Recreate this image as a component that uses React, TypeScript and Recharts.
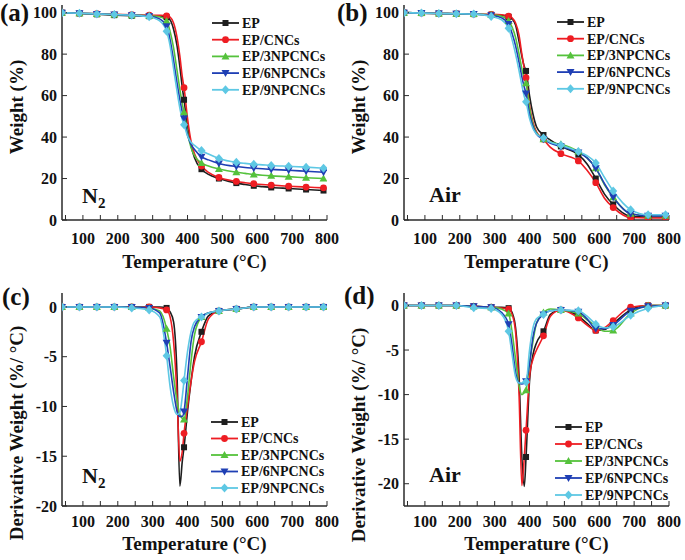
import { LineChart, Line, XAxis, YAxis, Label } from 'recharts';

const FONT = "'Liberation Serif', 'Times New Roman', serif";
const AXIS = '#2a2a2a';

const TEMPS = [40, 90, 140, 190, 240, 290, 320, 340, 350, 360, 370, 378, 385, 390, 400, 410, 420, 440, 460, 490, 540, 565, 590, 615, 640, 690, 740, 790];
const X_TICKS = [50, 100, 150, 200, 250, 300, 350, 400, 450, 500, 550, 600, 650, 700, 750, 800];
const SAMPLES = ['EP', 'EP/CNCs', 'EP/3NPCNCs', 'EP/6NPCNCs', 'EP/9NPCNCs'];
const COLORS = ['#1e1e1e', '#ee1d23', '#55c23c', '#1f3fb4', '#5ec8e4'];

// (a) TGA in N2, weight %
const TGA_N2_EP = [100, 99.6, 99.2, 98.8, 98.5, 98.3, 98.2, 97.8, 96.5, 92, 84, 74, 64, 58, 45, 36, 30, 24.5, 22, 20, 17.8, 17.1, 16.5, 16.1, 15.7, 15.2, 14.7, 14.2];
const TGA_N2_CNC = [100, 99.7, 99.5, 99.2, 99, 98.8, 98.7, 98.5, 97.8, 95, 88, 79, 69, 63.8, 49, 38, 32, 26, 23, 20.5, 18.6, 18, 17.5, 17.1, 16.8, 16.3, 15.9, 15.5];
const TGA_N2_3NP = [100, 99.7, 99.4, 99.1, 98.8, 98.5, 98, 96, 91, 83, 72, 63, 56, 52, 42, 35, 31, 27.5, 26, 24.6, 23, 22.5, 22, 21.6, 21.3, 20.9, 20.4, 20];
const TGA_N2_6NP = [100, 99.7, 99.4, 99.1, 98.8, 98.3, 97, 93.5, 87, 77, 66, 58, 52, 49, 41, 36.5, 34, 30.5, 29, 27.3, 25.8, 25.3, 25, 24.7, 24.4, 24, 23.5, 23];
const TGA_N2_9NP = [100, 99.7, 99.4, 99.1, 98.8, 98, 96, 91, 84, 73, 62, 54, 48.5, 46, 40.5, 37.5, 36, 33.5, 31.8, 29.7, 27.8, 27.3, 26.9, 26.6, 26.3, 25.9, 25.5, 25];

// (b) TGA in air, weight %
const TGA_AIR_EP = [100, 99.8, 99.6, 99.5, 99.3, 99, 98.7, 98, 97, 94, 86, 79, 74, 71.9, 60, 51, 45, 41, 38.5, 35.5, 31.5, 27, 20, 12.5, 7.5, 1.8, 1.5, 1.5];
const TGA_AIR_CNC = [100, 99.8, 99.6, 99.5, 99.3, 99.2, 99, 98.3, 97.5, 95, 89, 80, 73, 68.6, 55, 47, 42.5, 39, 35, 32, 28.5, 24, 18, 10.5, 6, 1.2, 1, 1];
const TGA_AIR_3NP = [100, 99.8, 99.6, 99.5, 99.3, 99, 98.3, 96, 93, 88, 80, 73, 68, 66, 54, 46, 42, 39, 37.5, 36.5, 33, 30, 25, 17, 11, 3, 2, 2];
const TGA_AIR_6NP = [100, 99.8, 99.6, 99.5, 99.3, 98.7, 97.5, 94.5, 90, 84, 76, 69, 64, 61, 51, 45, 41.5, 39, 37, 35.5, 32.5, 30, 25, 17.5, 11, 3, 2, 2];
const TGA_AIR_9NP = [100, 99.8, 99.6, 99.5, 99.3, 98.2, 96.5, 92.5, 87, 80, 72, 65, 59.5, 57, 49, 44, 41.5, 39.5, 37.5, 36, 33, 31, 27.5, 20.5, 14, 5, 2.5, 2.5];

// (c) DTG in N2, %/°C
const DTG_N2_EP = [0, 0, 0, 0, 0, 0, 0, -0.1, -0.5, -1.5, -7, -18, -15.5, -14.1, -10.5, -7.5, -5, -2.5, -0.9, -0.4, -0.2, -0.1, 0, 0, 0, 0, 0, 0];
const DTG_N2_CNC = [0, 0, 0, 0, 0, 0, -0.1, -0.3, -1, -3.5, -9, -15.5, -14.5, -12.7, -10, -7.5, -5.5, -3.5, -1.2, -0.4, -0.2, -0.1, 0, 0, 0, 0, 0, 0];
const DTG_N2_3NP = [0, 0, 0, 0, 0, -0.1, -0.4, -2.2, -4, -7, -9.5, -10.8, -11.2, -11.3, -9, -5.5, -2.8, -1, -0.6, -0.4, -0.2, -0.1, 0, 0, 0, 0, 0, 0];
const DTG_N2_6NP = [0, 0, 0, 0, 0, -0.1, -0.6, -3.6, -6, -8.5, -10.5, -11, -11, -10.5, -7, -3.5, -2, -1, -0.6, -0.4, -0.2, -0.1, 0, 0, 0, 0, 0, 0];
const DTG_N2_9NP = [0, 0, 0, 0, -0.1, -0.3, -1, -4.9, -8, -10, -10.8, -10.6, -9, -7.4, -4.5, -2.5, -1.5, -1, -0.6, -0.4, -0.2, -0.1, 0, 0, 0, 0, 0, 0];

// (d) DTG in air, %/°C
const DTG_AIR_EP = [0, 0, 0, 0, -0.1, -0.2, -0.2, -0.3, -0.8, -2.5, -8, -17, -20.3, -17, -8.5, -5.5, -4.2, -2.9, -1, -0.5, -1.2, -2, -2.8, -2.7, -2, -0.5, 0, 0];
const DTG_AIR_CNC = [0, 0, 0, 0, -0.1, -0.2, -0.3, -0.4, -1, -3, -10, -20.2, -17, -14, -8, -6, -5, -3.4, -1.2, -0.5, -1.4, -2.2, -2.8, -2.5, -1.7, -0.2, 0, 0];
const DTG_AIR_3NP = [0, 0, 0, 0, -0.1, -0.2, -0.4, -0.9, -3, -6, -9, -10, -9.8, -9.5, -6.5, -4, -2, -0.8, -0.4, -0.5, -0.9, -1.6, -2.3, -2.9, -2.8, -0.9, 0, 0];
const DTG_AIR_6NP = [0, 0, 0, 0, -0.1, -0.2, -0.8, -2.1, -4.5, -7.5, -8.7, -8.8, -8.7, -8.5, -6.5, -3.5, -2, -1, -0.6, -0.5, -0.7, -1.5, -2.6, -2.6, -2.2, -0.6, -0.1, 0];
const DTG_AIR_9NP = [0, 0, 0, 0, -0.25, -0.35, -1, -2.9, -5.5, -8, -8.7, -8.7, -8.6, -8.6, -5, -2.5, -1.5, -1, -0.6, -0.5, -0.6, -1.2, -2.1, -2.5, -2.4, -1.1, -0.3, 0];

const buildRows = (series: number[][]) =>
  TEMPS.map((t, i) => {
    const row: Record<string, number> = { t };
    series.forEach((s, k) => { row['s' + k] = s[i]; });
    return row;
  });

function Marker({ kind, x, y, color }: { kind: number; x: number; y: number; color: string }) {
  switch (kind) {
    case 0: return <rect x={x - 3} y={y - 3} width={6} height={6} fill={color} />;
    case 1: return <circle cx={x} cy={y} r={3.4} fill={color} />;
    case 2: return <polygon points={`${x},${y - 4} ${x + 4},${y + 3} ${x - 4},${y + 3}`} fill={color} />;
    case 3: return <polygon points={`${x},${y + 4} ${x + 4},${y - 3} ${x - 4},${y - 3}`} fill={color} />;
    default: return <polygon points={`${x},${y - 4.5} ${x + 4},${y} ${x},${y + 4.5} ${x - 4},${y}`} fill={color} />;
  }
}

interface PanelProps {
  series: number[][];
  left: number; top: number;
  chartTop: number; xAxisH: number; xTickMargin: number; xTitleY: number;
  yDomain: [number, number]; yTicks: number[]; yTitle: string; yTitleCY: number;
  tag: string; tagX: number; tagY: number;
  env: 'N2' | 'Air'; envX: number; envY: number;
  legendX: number; legendY: number; legendGap: number;
}

function Panel(p: PanelProps) {
  const rows = buildRows(p.series);
  const tickStyle = { fontFamily: FONT, fontSize: 16, fontWeight: 'bold', fill: '#111' };
  return (
    <div style={{ position: 'absolute', left: p.left, top: p.top, width: 342, height: 280 }}>
      <LineChart width={342} height={280} data={rows} margin={{ top: p.chartTop, right: 15, left: 0, bottom: 0 }}>
        <XAxis dataKey="t" type="number" domain={[40, 800]} ticks={X_TICKS} allowDataOverflow
          tickFormatter={(v: number) => (v % 100 === 0 ? String(v) : '')}
          tickSize={-5} tickMargin={p.xTickMargin} height={p.xAxisH}
          axisLine={{ stroke: AXIS, strokeWidth: 1.5 }} tickLine={{ stroke: AXIS }} tick={tickStyle}>
          <Label content={() => (
            <text x={194.5} y={p.xTitleY} textAnchor="middle" fontFamily={FONT} fontSize={19} fontWeight="bold" fill="#111">Temperature (°C)</text>
          )} />
        </XAxis>
        <XAxis xAxisId="top" orientation="top" dataKey="t" type="number" domain={[40, 800]} height={0}
          tick={false} tickLine={false} axisLine={{ stroke: AXIS, strokeWidth: 1.5 }} />
        <YAxis type="number" domain={p.yDomain} ticks={p.yTicks} width={62} allowDataOverflow
          tickSize={-5} tickMargin={10} axisLine={{ stroke: AXIS, strokeWidth: 1.5 }} tickLine={{ stroke: AXIS }} tick={tickStyle}>
          <Label content={() => (
            <text transform={`translate(23, ${p.yTitleCY}) rotate(-90)`} textAnchor="middle" fontFamily={FONT} fontSize={19} fontWeight="bold" fill="#111">{p.yTitle}</text>
          )} />
        </YAxis>
        <YAxis yAxisId="r" orientation="right" type="number" domain={p.yDomain} width={0}
          tick={false} tickLine={false} axisLine={{ stroke: AXIS, strokeWidth: 1.5 }} />
        {p.series.map((_, k) => (
          <Line key={k} dataKey={'s' + k} type="monotone" stroke={COLORS[k]} strokeWidth={1.6}
            isAnimationActive={false} activeDot={false}
            dot={(d: any) => ((d.payload.t - 40) % 50 === 0 && d.cx != null
              ? <Marker key={d.index} kind={k} x={d.cx} y={d.cy} color={COLORS[k]} />
              : <g key={d.index} />)} />
        ))}
      </LineChart>
      <svg width={342} height={280} style={{ position: 'absolute', left: 0, top: 0, overflow: 'visible', pointerEvents: 'none' }}>
        <text x={p.tagX} y={p.tagY} fontFamily={FONT} fontSize={25} fontWeight="bold" fill="#111">{p.tag}</text>
        <text x={p.envX} y={p.envY} fontFamily={FONT} fontSize={22} fontWeight="bold" fill="#111">
          {p.env === 'N2' ? <>N<tspan fontSize={15} dy={5}>2</tspan></> : 'Air'}
        </text>
        {SAMPLES.map((name, k) => {
          const y = p.legendY + k * p.legendGap;
          return (
            <g key={name}>
              <line x1={p.legendX} x2={p.legendX + 27} y1={y} y2={y} stroke={COLORS[k]} strokeWidth={1.8} />
              <Marker kind={k} x={p.legendX + 13.5} y={y} color={COLORS[k]} />
              <text x={p.legendX + 30} y={y} dy="0.35em" fontFamily={FONT} fontSize={14} fontWeight="bold" fill="#111">{name}</text>
            </g>
          );
        })}
      </svg>
    </div>
  );
}

export default function App() {
  const tgaTicks = [0, 20, 40, 60, 80, 100];
  const dtgTicks = [-20, -15, -10, -5, 0];
  return (
    <div style={{ position: 'absolute', left: 0, top: 0, width: 685, height: 560, background: '#fff' }}>
      <Panel series={[TGA_N2_EP, TGA_N2_CNC, TGA_N2_3NP, TGA_N2_6NP, TGA_N2_9NP]}
        left={0} top={0} chartTop={5} xAxisH={60} xTickMargin={18} xTitleY={268}
        yDomain={[0, 103.7]} yTicks={tgaTicks} yTitle="Weight (%)" yTitleCY={107}
        tag="(a)" tagX={0} tagY={21} env="N2" envX={82} envY={203}
        legendX={212} legendY={23} legendGap={16.7} />
      <Panel series={[TGA_AIR_EP, TGA_AIR_CNC, TGA_AIR_3NP, TGA_AIR_6NP, TGA_AIR_9NP]}
        left={342} top={0} chartTop={5} xAxisH={60} xTickMargin={18} xTitleY={268}
        yDomain={[0, 103.7]} yTicks={tgaTicks} yTitle="Weight (%)" yTitleCY={107}
        tag="(b)" tagX={-5} tagY={21} env="Air" envX={87} envY={202}
        legendX={215} legendY={22} legendGap={16.7} />
      <Panel series={[DTG_N2_EP, DTG_N2_CNC, DTG_N2_3NP, DTG_N2_6NP, DTG_N2_9NP]}
        left={0} top={280} chartTop={13} xAxisH={54} xTickMargin={15} xTitleY={270}
        yDomain={[-20, 1.4]} yTicks={dtgTicks} yTitle="Derivative Weight (%/ °C)" yTitleCY={153}
        tag="(c)" tagX={2} tagY={25} env="N2" envX={82} envY={203}
        legendX={211} legendY={142} legendGap={16.5} />
      <Panel series={[DTG_AIR_EP, DTG_AIR_CNC, DTG_AIR_3NP, DTG_AIR_6NP, DTG_AIR_9NP]}
        left={342} top={280} chartTop={13} xAxisH={54} xTickMargin={15} xTitleY={270}
        yDomain={[-22.5, 1.4]} yTicks={dtgTicks} yTitle="Derivative Weight (%/ °C)" yTitleCY={155}
        tag="(d)" tagX={2} tagY={24} env="Air" envX={87} envY={202}
        legendX={213} legendY={147} legendGap={17} />
    </div>
  );
}
